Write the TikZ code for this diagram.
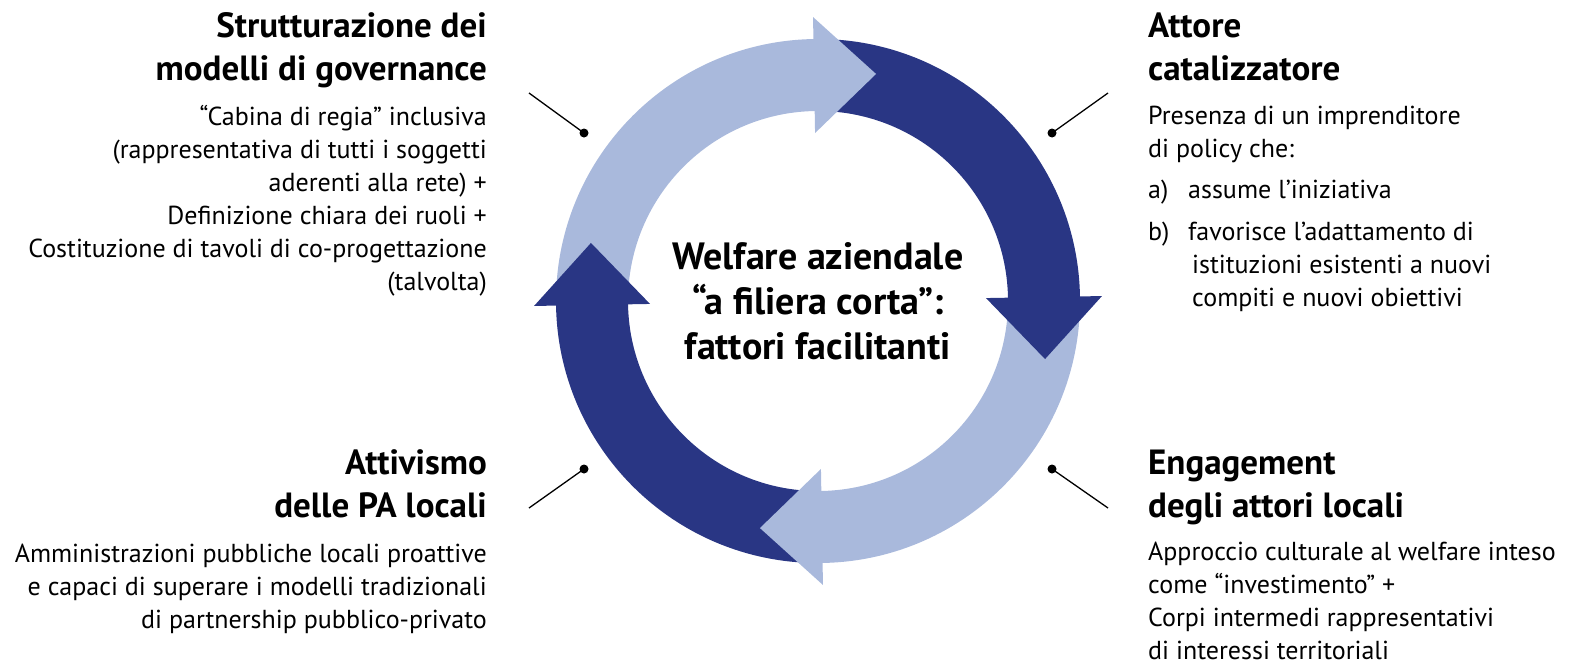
\documentclass[tikz,border=0pt]{standalone}
\usepackage{fontspec}
\setmainfont{PT Sans}
\usetikzlibrary{calc}

\definecolor{ringlight}{RGB}{169,185,220}
\definecolor{ringdark}{RGB}{41,54,132}

\begin{document}
\begin{tikzpicture}[
        x=1pt, y=-1pt,
        title/.style={font=\fontsize{35}{43}\selectfont\bfseries, inner sep=0pt},
        body/.style={font=\fontsize{26}{33}\selectfont, inner sep=0pt},
        hub/.style={font=\fontsize{38}{45}\selectfont\bfseries, align=center, inner sep=0pt},
        dot/.style={circle, fill=black, inner sep=0pt, minimum size=9pt},
        leader/.style={line width=1.3pt}
    ]
        \useasboundingbox (0,0) rectangle (1576,665);
        \coordinate (c) at (818,301);

        % Ring
        \foreach \a/\col in {180/ringlight, 270/ringdark, 0/ringlight, 90/ringdark} {
            \fill[\col] ($(c)+(\a:262)$) arc[start angle=\a, end angle=\a+90, radius=262]
                -- ($(c)+(\a+90:190)$) arc[start angle=\a+90, end angle=\a, radius=190] -- cycle;
        }
        \foreach \a/\col in {180/ringlight, 270/ringdark, 0/ringlight, 90/ringdark} {
            \fill[\col] ($(c)+(\a+89:168)$) -- ($(c)+(\a+89:284)$)
                -- ($(c)+(\a+89:226)+(\a+179:62)$) -- cycle;
        }

        \node[hub] (welfare) at (c) {Welfare aziendale\\“a filiera corta”:\\fattori facilitanti};

        % Blocks (anchored at the baseline of their last line)
        \node[title, align=right, anchor=base east] (govtitle) at (487,80) {Strutturazione dei\\modelli di governance};
        \node[body, align=right, anchor=base east] (govtext) at (487,290) {“Cabina di regia” inclusiva\\(rappresentativa di tutti i soggetti\\aderenti alla rete) +\\Definizione chiara dei ruoli +\\Costituzione di tavoli di co-progettazione\\(talvolta)};

        \node[title, align=left, anchor=base west] (cattitle) at (1148,80) {Attore\\catalizzatore};
        \node[body, align=left, anchor=base west] (cattext) at (1148,306) {Presenza di un imprenditore\\di policy che:\\[8pt]\makebox[40pt][l]{a)}assume l’iniziativa\\[9pt]\makebox[40pt][l]{b)}favorisce l’adattamento di\\\hspace*{44pt}istituzioni esistenti a nuovi\\\hspace*{44pt}compiti e nuovi obiettivi};

        \node[title, align=right, anchor=base east] (patitle) at (487,517) {Attivismo\\delle PA locali};
        \node[body, align=right, anchor=base east] (patext) at (487,628) {Amministrazioni pubbliche locali proattive\\e capaci di superare i modelli tradizionali\\di partnership pubblico-privato};

        \node[title, align=left, anchor=base west] (engtitle) at (1148,517) {Engagement\\degli attori locali};
        \node[body, align=left, anchor=base west] (engtext) at (1148,659) {Approccio culturale al welfare inteso\\come “investimento” +\\Corpi intermedi rappresentativi\\di interessi territoriali};

        % Leaders
        \node[dot] (govdot) at (584,133) {};
        \node[dot] (catdot) at (1052,133) {};
        \node[dot] (padot) at (584,469) {};
        \node[dot] (engdot) at (1052,469) {};
        \coordinate (govend) at (529,93);
        \coordinate (catend) at (1108,93);
        \coordinate (paend) at (529,508);
        \coordinate (engend) at (1108,508);
        \draw[leader] (govend) -- (govdot.center);
        \draw[leader] (catend) -- (catdot.center);
        \draw[leader] (paend) -- (padot.center);
        \draw[leader] (engend) -- (engdot.center);

    \end{tikzpicture}
\end{document}
